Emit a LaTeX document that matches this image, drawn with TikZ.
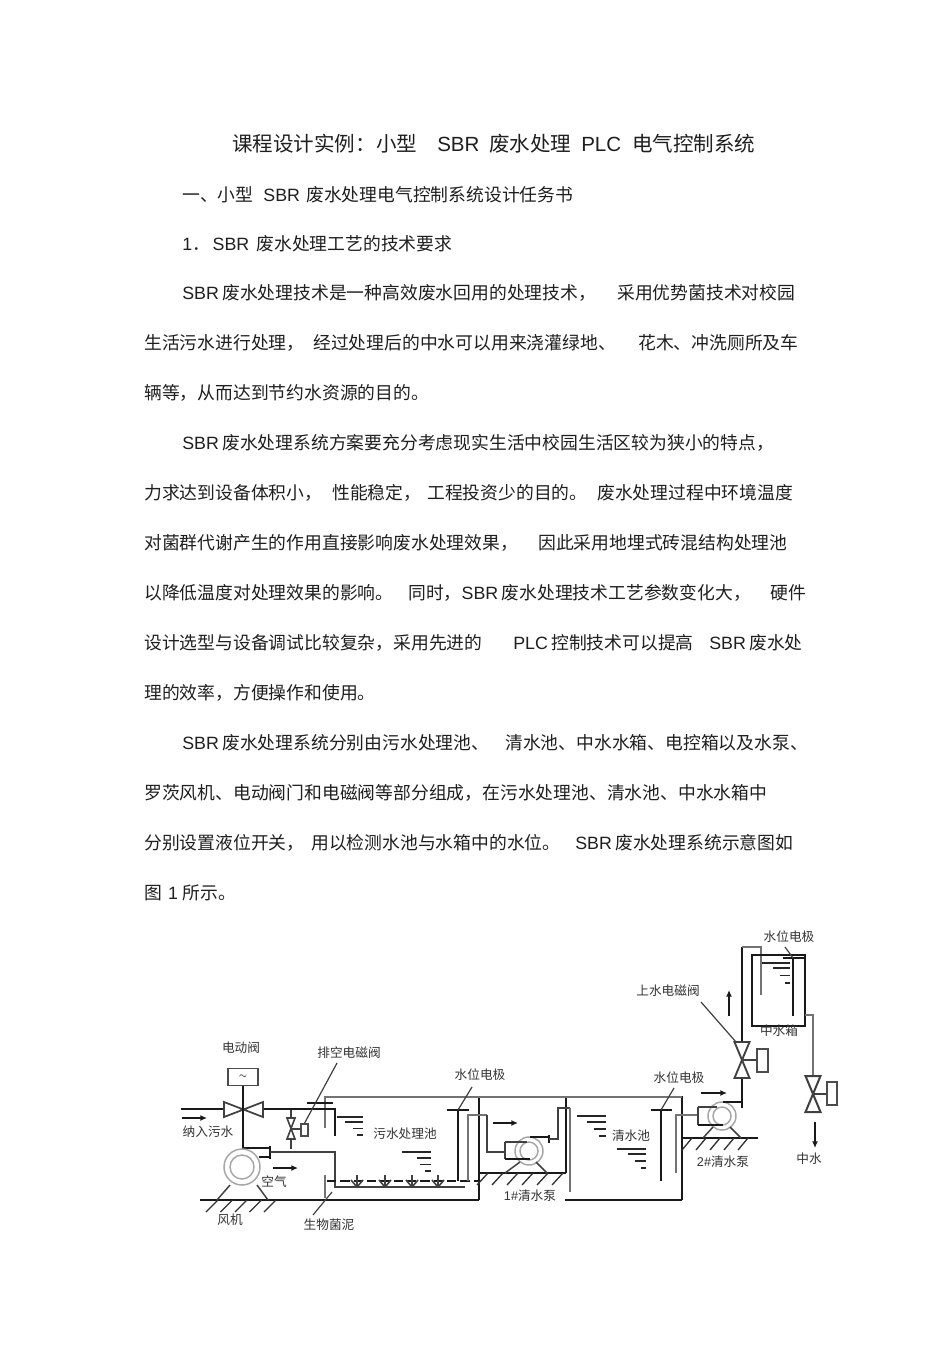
\documentclass[tikz,border=0pt]{standalone}
\usepackage{fontspec}
\setmainfont{Noto Sans CJK SC}
\newfontfamily\latf{Liberation Sans}
\usetikzlibrary{arrows.meta}
\newcommand\Lt[1]{{\latf #1}}
\newcommand\gp{\kern 6.5pt\relax}
\newcommand\sg{\kern 2.5pt\relax}
\newcommand\fc{\char"FF0C\relax}
\newcommand\fcol{\char"FF1A\relax}
\newcommand\fdot{\char"FF0E\relax}
\tikzset{
 bodytxt/.style={anchor=base west,inner sep=0pt,yshift=-4.6pt,text=black!88,font=\fontsize{13.35pt}{15pt}\selectfont},
 titletxt/.style={anchor=base west,inner sep=0pt,yshift=-5.4pt,text=black!88,font=\fontsize{15.4pt}{17pt}\selectfont},
 lab/.style={anchor=center,inner sep=0pt,text=black!80,font=\fontsize{9.5pt}{11pt}\selectfont},
 pipeK/.style={draw=black!90,line width=1.8pt},
 pipeM/.style={draw=black!75,line width=1.2pt},
 pipeG/.style={draw=black!55,line width=1.3pt},
 thinL/.style={draw=black!75,line width=.9pt},
 hatchL/.style={draw=black!80,line width=1pt},
 ringL/.style={draw=black!35,line width=1.1pt},
 boxL/.style={draw=black!70,line width=1.1pt,fill=white},
 arr/.style={draw=black!90,line width=1.6pt,-{Latex[length=5pt,width=4.5pt]}},
 levelL/.style={draw=black!85,line width=1.3pt},
}
\newcommand\tl[4]{\node[bodytxt] (#1) at (#2,#3) {#4};}
\newcommand\lb[4]{\node[lab] (#1) at (#2,#3) {#4};}
\newcommand\lev[8]{%x1 y x2 | four levels
 \draw[levelL] (#1,#2)--(#8,#2) (#3,#2+#6)--(#8,#2+#6) (#4,#2+#6+#7)--(#8,#2+#6+#7) (#5,#2+#6+#7+#7)--(#8,#2+#6+#7+#7);}
\begin{document}
\begin{tikzpicture}[x=.75pt,y=-.75pt]
\useasboundingbox (0,0) rectangle (950,1345);
\fill[white] (0,0) rectangle (950,1345);
% ---- title
\node[titletxt] (ta) at (232,144) {课程设计实例\fcol 小型};
\node[titletxt] (tb) at (437,144) {\Lt{SBR}};
\node[titletxt] (tc) at (489,144) {废水处理};
\node[titletxt] (td) at (581,144) {\Lt{PLC}};
\node[titletxt] (te) at (632,144) {电气控制系统};
% ---- body
\tl{a1}{182}{195}{一、小型\kern 7.5pt\Lt{SBR}\kern 4.7pt 废水处理电气控制系统设计任务书}
\tl{a2}{182}{244}{\Lt{1}\fdot\kern 2pt\Lt{SBR}\kern 5.5pt 废水处理工艺的技术要求}
\tl{b1}{182}{293}{\Lt{SBR}\sg 废水处理技术是一种高效废水回用的处理技术\fc}
\tl{b2}{617}{293}{采用优势菌技术对校园}
\tl{c1}{144}{343}{生活污水进行处理\fc}
\tl{c2}{313}{343}{经过处理后的中水可以用来浇灌绿地、}
\tl{c3}{638}{343}{花木、冲洗厕所及车}
\tl{d1}{144}{393}{辆等\fc 从而达到节约水资源的目的。}
\tl{e1}{182}{443}{\Lt{SBR}\sg 废水处理系统方案要充分考虑现实生活中校园生活区较为狭小的特点\fc}
\tl{f1}{144}{493}{力求达到设备体积小\fc}
\tl{f2}{332}{493}{性能稳定\fc}
\tl{f3}{427}{493}{工程投资少的目的。}
\tl{f4}{597}{493}{废水处理过程中环境温度}
\tl{g1}{144}{543}{对菌群代谢产生的作用直接影响废水处理效果\fc}
\tl{g2}{538}{543}{因此采用地埋式砖混结构处理池}
\tl{h1}{144}{593}{以降低温度对处理效果的影响。}
\tl{h2}{408}{593}{同时\fc\Lt{SBR}\sg 废水处理技术工艺参数变化大\fc}
\tl{h3}{770}{593}{硬件}
\tl{i1}{144}{643}{设计选型与设备调试比较复杂\fc 采用先进的}
\tl{i2}{513}{643}{\Lt{PLC}\sg 控制技术可以提高}
\tl{i3}{709}{643}{\Lt{SBR}\sg 废水处}
\tl{j1}{144}{693}{理的效率\fc 方便操作和使用。}
\tl{k1}{182}{743}{\Lt{SBR}\sg 废水处理系统分别由污水处理池、}
\tl{k2}{505}{743}{清水池、中水水箱、电控箱以及水泵、}
\tl{l1}{144}{793}{罗茨风机、电动阀门和电磁阀等部分组成\fc 在污水处理池、清水池、中水水箱中}
\tl{m1}{144}{843}{分别设置液位开关\fc}
\tl{m2}{311}{843}{用以检测水池与水箱中的水位。}
\tl{m3}{575}{843}{\Lt{SBR}\sg 废水处理系统示意图如}
\tl{n1}{144}{893}{图\kern 4.5pt\Lt{1}\kern 3.5pt 所示。}
% ---- ground lines and hatching
\draw[pipeK] (200,1200)--(479,1200) (479,1097)--(479,1200);
\foreach \x in {218,232.5,...,290} \draw[hatchL] (\x,1200)--(\x-12,1212);
\draw[pipeK] (480,1173)--(566,1173) (566,1097)--(566,1173);
\foreach \x in {488,503,...,563} \draw[hatchL] (\x,1173)--(\x-11,1185);
\draw[pipeK] (565,1200)--(682,1200) (682,1096)--(682,1200);
\draw[pipeK] (683,1138)--(758,1138);
\foreach \x in {692,706,...,758} \draw[hatchL] (\x,1138)--(\x-10,1150);
% ---- tank outline
\draw[pipeG] (325,1128)--(325,1097)--(682,1097);
\draw[pipeG] (325,1175)--(325,1198);
% ---- inlet and electric valve
\draw[pipeK] (181,1109)--(224,1109) (263,1109)--(335,1109)--(335,1136);
\draw[arr] (182,1118)--(207,1118);
\draw[thinL,line width=1.3pt] (224,1102)--(224,1117)--(263,1102)--(263,1117)--cycle;
\draw[pipeK] (243,1085)--(243,1148)--(270,1148);
\node[boxL,minimum width=22.5pt,minimum height=12.75pt,inner sep=0pt,font=\fontsize{7pt}{8pt}\selectfont] (act) at (243,1077) {$\sim$};
\draw[pipeK] (307,1103)--(333,1103);
\draw[pipeK] (270,1146)--(270,1159) (259,1157)--(270,1157);
% ---- blower
\draw[ringL] (242,1167) circle[radius=18*.75pt] (242,1167) circle[radius=12*.75pt];
\draw[thinL,line width=1.1pt] (230,1185)--(217,1200) (257,1185)--(268,1200);
\draw[arr] (273,1168)--(298,1168);
% ---- air pipe
\draw[thinL,line width=1.1pt] (270,1152)--(335,1152)--(335,1187)--(465,1187);
\draw[pipeK,dashed,dash pattern=on 7pt off 3pt] (327,1181)--(478,1181);
\foreach \x in {357,385,412,438} \draw[thinL,line width=1.2pt] (\x,1175)--(\x,1187) (\x-6,1180)--(\x,1187)--(\x+6,1180);
\draw[thinL] (332,1192)--(313,1215);
% ---- drain valve
\draw[thinL,line width=1.2pt] (291,1110)--(291,1118) (291,1139)--(291,1149) (291,1129)--(302,1129);
\draw[thinL,line width=1.2pt] (287,1118)--(295,1118)--(287,1139)--(295,1139)--cycle;
\node[boxL,minimum width=5.2pt,minimum height=9pt,inner sep=0pt] (dv) at (304.5,1130) {};
\draw[thinL] (337,1063)--(dv.north);
% ---- levels
\lev{337}{1117}{345}{353}{357}{5}{6.5}{363}
\lev{402}{1152}{417}{420}{425}{6}{6.5}{431}
\lev{577}{1116}{587}{594}{599}{6}{7}{606}
\lev{617}{1149}{628}{635}{641}{5}{7}{646}
\lev{762}{963}{773}{780}{785}{5}{7.5}{790}
% ---- electrode 1
\draw[pipeK] (447,1110)--(469,1110) (458,1110)--(458,1181);
\draw[thinL] (472,1087)--(458,1110);
% ---- pump 1
\draw[pipeG] (468,1181)--(468,1115)--(487,1115);
\draw[thinL,line width=1.1pt] (487,1115)--(487,1152)--(505,1152);
\draw[arr] (493,1123)--(518,1123);
\draw[ringL] (529,1151) circle[radius=14*.75pt] (529,1151) circle[radius=9*.75pt];
\draw[thinL,line width=1.2pt] (505,1142)--(527,1142) (505,1142)--(505,1159);
\draw[pipeK] (505,1159)--(530,1159) (530,1137)--(549,1137) (549,1135)--(549,1143);
\draw[thinL,line width=1.1pt] (520,1162)--(505,1173) (536,1162)--(547,1173);
\draw[thinL,line width=1.1pt] (549,1139)--(558,1139)--(558,1108)--(570,1108);
\draw[pipeG] (570,1108)--(570,1192);
% ---- electrode 2
\draw[pipeK] (651,1110)--(672,1110) (661,1110)--(661,1181);
\draw[thinL] (674,1088)--(661,1110);
% ---- pump 2
\draw[pipeG] (676,1173)--(676,1115)--(698,1115);
\draw[ringL] (722,1116) circle[radius=14*.75pt] (722,1116) circle[radius=9*.75pt];
\draw[thinL,line width=1.2pt] (698,1107)--(717,1107) (698,1107)--(698,1125);
\draw[pipeK] (698,1125)--(723,1125) (723,1102)--(742,1102) (742,1108)--(742,947);
\draw[thinL,line width=1.1pt] (713,1127)--(703,1138) (730,1127)--(741,1138);
\draw[arr] (701,1093)--(727,1093);
% ---- upper solenoid valve
\draw[pipeG] (742,947)--(761,947)--(761,995);
\draw[thinL,line width=1.4pt,fill=white] (734.5,1042)--(749.5,1042)--(734.5,1078)--(749.5,1078)--cycle;
\draw[thinL,line width=1.2pt] (742,1060)--(757,1060);
\node[boxL,minimum width=8.2pt,minimum height=17pt,inner sep=0pt] (uv) at (762.5,1060.5) {};
\draw[thinL] (701,1002)--(736,1042);
\draw[arr,line width=1.8pt] (729,1016)--(729,990);
% ---- middle water tank
\draw[pipeK] (752,955) rectangle (805,1026);
\draw[pipeK] (783,958)--(805,958) (793,958)--(793,1016);
\draw[thinL] (785,947)--(793,958);
\draw[pipeG] (805,1015)--(813,1015)--(813,1076);
% ---- outlet valve
\draw[thinL,line width=1.5pt] (805.5,1076)--(820.5,1076)--(805.5,1112)--(820.5,1112)--cycle;
\draw[thinL,line width=1.2pt] (813,1094)--(827,1094);
\node[boxL,minimum width=7.5pt,minimum height=17pt,inner sep=0pt] (ov) at (832,1093.5) {};
\draw[arr] (815,1122)--(815,1148);
% ---- labels
\lb{p1}{241}{1048}{电动阀}
\lb{p2}{349}{1053}{排空电磁阀}
\lb{p3}{480}{1075}{水位电极}
\lb{p4}{208}{1132}{纳入污水}
\lb{p5}{405}{1134}{污水处理池}
\lb{p6}{274}{1182}{空气}
\lb{p7}{230}{1220}{风机}
\lb{p8}{329}{1225}{生物菌泥}
\lb{p9}{530}{1196}{\Lt{1\#}清水泵}
\lb{p10}{631}{1136}{清水池}
\lb{p11}{679}{1078}{水位电极}
\lb{p12}{723}{1162}{\Lt{2\#}清水泵}
\lb{p13}{809}{1159}{中水}
\lb{p14}{779}{1031}{中水箱}
\lb{p15}{668}{991}{上水电磁阀}
\lb{p16}{789}{937}{水位电极}
\end{tikzpicture}
\end{document}
